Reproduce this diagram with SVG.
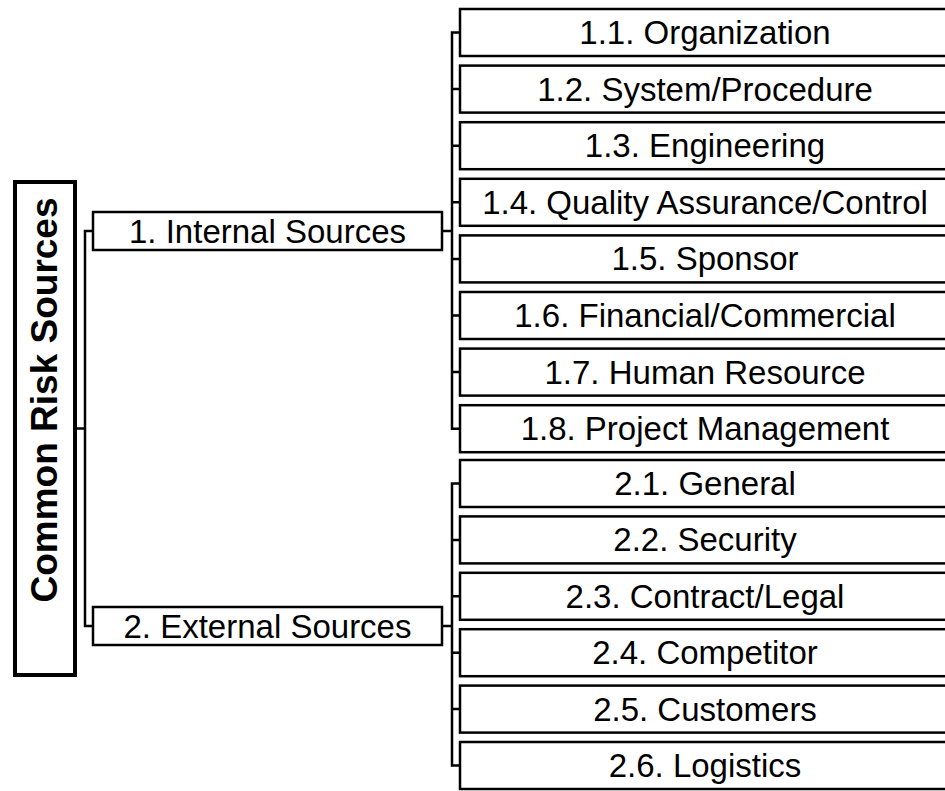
<svg xmlns="http://www.w3.org/2000/svg" width="945" height="791" viewBox="0 0 945 791">
<style>
  .bg { fill: #ffffff; }
  .box { fill: #ffffff; stroke: #000000; stroke-width: 2.5; }
  .root { fill: #ffffff; stroke: #000000; stroke-width: 4; }
  .lbl { font-family: "Liberation Sans", Arial, sans-serif; font-size: 33px; fill: #000000; text-anchor: middle; }
  .rlbl { font-family: "Liberation Sans", Arial, sans-serif; font-size: 37px; font-weight: bold; fill: #000000; text-anchor: middle; }
  .conn { fill: none; stroke: #000000; stroke-width: 2.5; }
</style>
<rect class="bg" x="0" y="0" width="945" height="791"/>
<g id="connectors">
  <path class="conn" d="M77,428.5 H85 M93,231 H85 V626 H93"/>
  <path class="conn" d="M442,231 H452 M460,32.5 H452 V428.7 H460 M452,89.1 H460 M452,145.7 H460 M452,202.3 H460 M452,258.9 H460 M452,315.5 H460 M452,372.1 H460"/>
  <path class="conn" d="M442,626 H452 M460,483.5 H452 V765.5 H460 M452,539.9 H460 M452,596.3 H460 M452,652.7 H460 M452,709.1 H460"/>
</g>
<g id="root">
  <rect class="root" x="15" y="182" width="60" height="493"/>
  <text class="rlbl" transform="translate(44,400) rotate(-90)" x="0" y="13">Common Risk Sources</text>
</g>
<g id="n1">
  <rect class="box" x="93" y="212" width="349" height="38"/>
  <text class="lbl" x="267.5" y="243">1. Internal Sources</text>
</g>
<g id="n2">
  <rect class="box" x="93" y="607" width="349" height="38"/>
  <text class="lbl" x="267.5" y="638">2. External Sources</text>
</g>
<g id="n1_1"><rect class="box" x="460" y="9" width="495" height="47"/><text class="lbl" x="705" y="44">1.1. Organization</text></g>
<g id="n1_2"><rect class="box" x="460" y="65.6" width="495" height="47"/><text class="lbl" x="705" y="100.6">1.2. System/Procedure</text></g>
<g id="n1_3"><rect class="box" x="460" y="122.2" width="495" height="47"/><text class="lbl" x="705" y="157.2">1.3. Engineering</text></g>
<g id="n1_4"><rect class="box" x="460" y="178.8" width="495" height="47"/><text class="lbl" x="705" y="213.8">1.4. Quality Assurance/Control</text></g>
<g id="n1_5"><rect class="box" x="460" y="235.4" width="495" height="47"/><text class="lbl" x="705" y="270.4">1.5. Sponsor</text></g>
<g id="n1_6"><rect class="box" x="460" y="292" width="495" height="47"/><text class="lbl" x="705" y="327">1.6. Financial/Commercial</text></g>
<g id="n1_7"><rect class="box" x="460" y="348.6" width="495" height="47"/><text class="lbl" x="705" y="383.6">1.7. Human Resource</text></g>
<g id="n1_8"><rect class="box" x="460" y="405.2" width="495" height="47"/><text class="lbl" x="705" y="440.2">1.8. Project Management</text></g>
<g id="n2_1"><rect class="box" x="460" y="460" width="495" height="47"/><text class="lbl" x="705" y="495">2.1. General</text></g>
<g id="n2_2"><rect class="box" x="460" y="516.4" width="495" height="47"/><text class="lbl" x="705" y="551.4">2.2. Security</text></g>
<g id="n2_3"><rect class="box" x="460" y="572.8" width="495" height="47"/><text class="lbl" x="705" y="607.8">2.3. Contract/Legal</text></g>
<g id="n2_4"><rect class="box" x="460" y="629.2" width="495" height="47"/><text class="lbl" x="705" y="664.2">2.4. Competitor</text></g>
<g id="n2_5"><rect class="box" x="460" y="685.6" width="495" height="47"/><text class="lbl" x="705" y="720.6">2.5. Customers</text></g>
<g id="n2_6"><rect class="box" x="460" y="742" width="495" height="47"/><text class="lbl" x="705" y="777">2.6. Logistics</text></g>
</svg>
